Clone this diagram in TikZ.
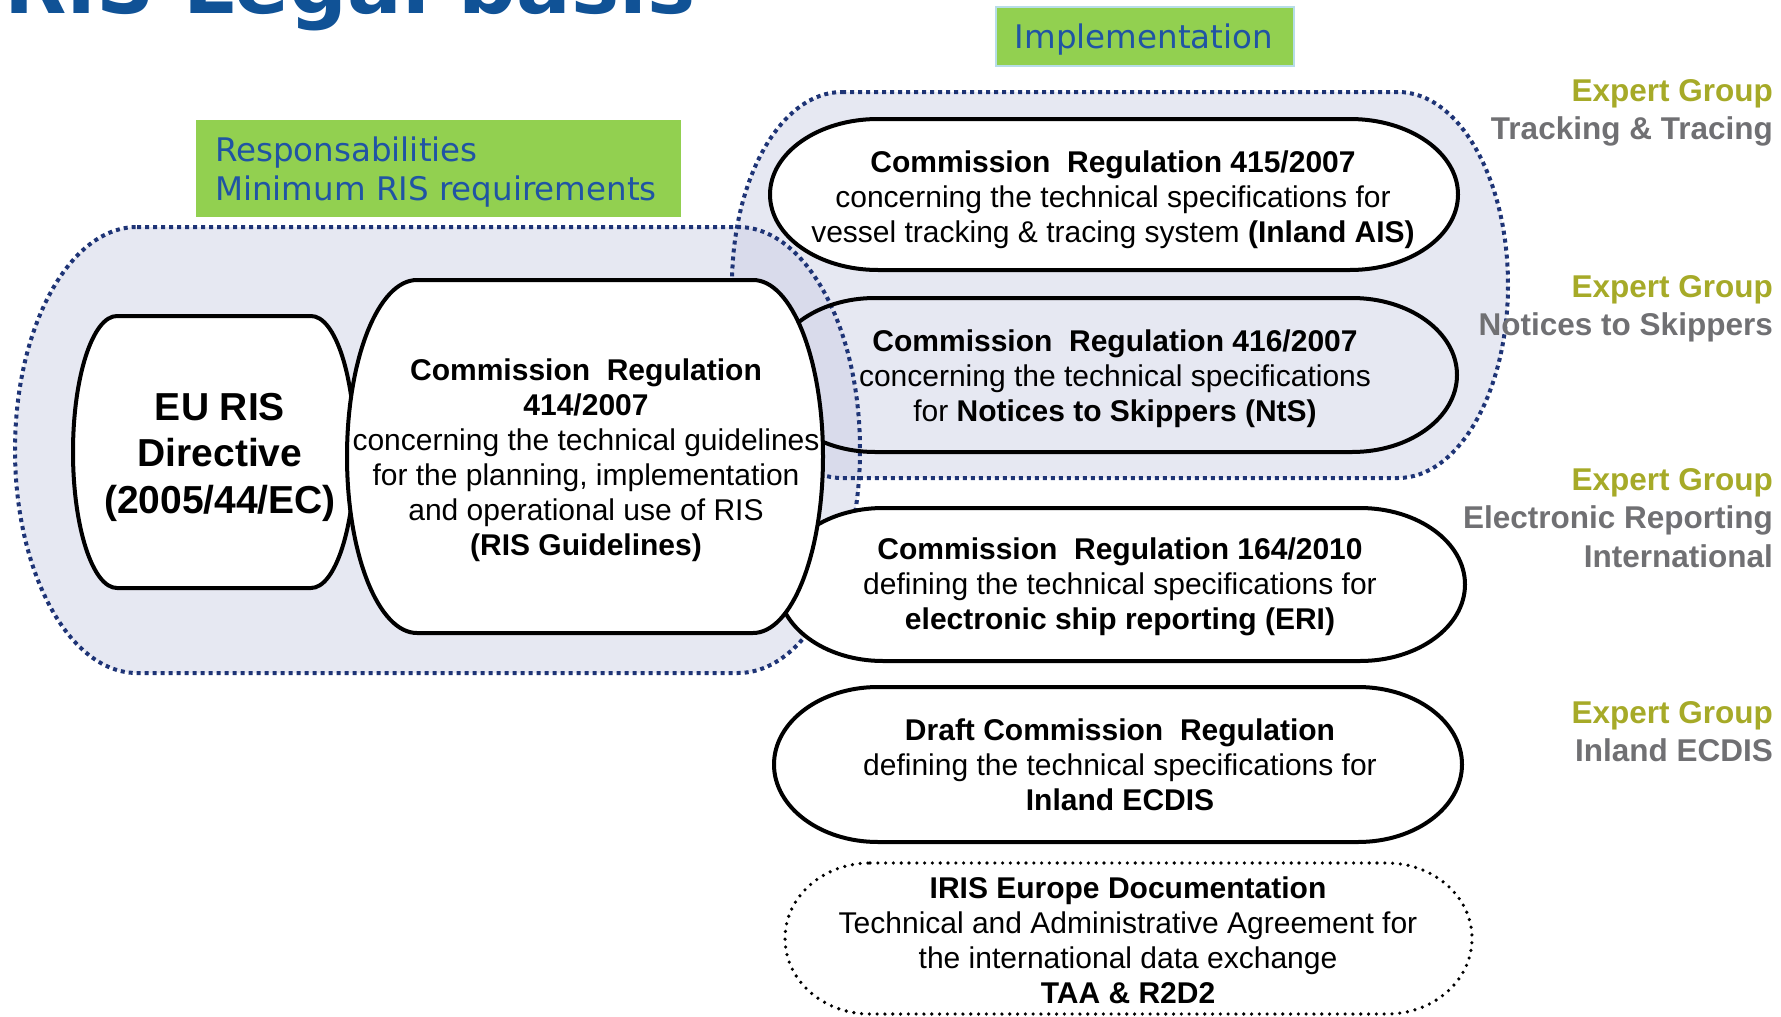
\documentclass[tikz,border=0pt]{standalone}
\usepackage{fontspec}
\setmainfont{Liberation Sans}
\newfontfamily\verdana{DejaVu Sans}
\usepackage{xcolor}
\usepackage{tikz}
\definecolor{titleblue}{RGB}{16, 82, 150}
\definecolor{leafgreen}{RGB}{146, 208, 80}
\definecolor{labelblue}{RGB}{32, 84, 164}
\definecolor{paleblue}{RGB}{183, 221, 232}
\definecolor{navy}{RGB}{30, 52, 118}
\definecolor{haze}{RGB}{200, 203, 226}
\definecolor{egolive}{RGB}{166, 170, 40}
\definecolor{eggrey}{RGB}{112, 112, 115}
\newcommand{\capsulepath}[5]{({#1-#3+#5},{#2-#4}) -- ({#1+#3-#5},{#2-#4})
  arc[start angle=90, end angle=-90, x radius=#5pt, y radius=#4pt]
  -- ({#1-#3+#5},{#2+#4})
  arc[start angle=270, end angle=90, x radius=#5pt, y radius=#4pt] -- cycle}

\begin{document}
\begin{tikzpicture}[x=1pt, y=-1pt,
  region/.style={fill=haze, fill opacity=0.45},
  regionline/.style={draw=navy, line width=4pt, dash pattern=on 4pt off 4pt},
  regbox/.style={draw=black, line width=4pt},
  irisline/.style={draw=black, line width=3.6pt, line cap=round, dash pattern=on 0pt off 7.8pt},
  tag/.style={fill=leafgreen, inner sep=0pt},
  tagtext/.style={inner sep=0pt, align=left, text=labelblue,
    font=\verdana\fontsize{32.5}{39.5}\selectfont},
  txt/.style={inner sep=0pt, align=center, font=\fontsize{30}{35}\selectfont},
  eglbl/.style={inner sep=0pt, align=right, anchor=north east, text=eggrey,
    font=\fontsize{31.5}{38.5}\selectfont\bfseries}
]
\useasboundingbox (0,0) rectangle (1781,1017);
\clip (0,0) rectangle (1781,1017);

\node[anchor=base west, inner sep=0pt, text=titleblue,
      font=\verdana\bfseries\fontsize{81}{96}\selectfont] at (4,13) (title) {RIS Legal basis};

\node[tag, minimum width=485, minimum height=97] at (438.5,168.5) (respbox) {};
\node[tagtext, anchor=west] at (215,172) (resp) {Responsabilities\\Minimum RIS requirements};
\node[tag, draw=paleblue, line width=2pt, minimum width=298, minimum height=59]
      at (1145,36.5) (implbox) {};
\node[tagtext] at (1144,40) (impl) {Implementation};

\fill[region] \capsulepath{437.5}{450}{422.5}{223}{122};
\fill[region] \capsulepath{1120}{285}{388}{193}{110};
\draw[regionline] \capsulepath{437.5}{450}{422.5}{223}{122};
\draw[regionline] \capsulepath{1120}{285}{388}{193}{110};

\draw[regbox, fill=white] \capsulepath{214}{452}{141}{136}{44};
\draw[regbox, fill=white] \capsulepath{1114}{194.5}{344}{75.5}{108};
\draw[regbox] \capsulepath{1113.5}{375}{343.5}{77}{105};
\draw[regbox, fill=white] \capsulepath{1121.5}{584.5}{343.5}{76.5}{105};
\draw[regbox, fill=white] \capsulepath{1118}{764.5}{344}{77.5}{104};
\draw[irisline] \capsulepath{1128.5}{938.5}{343.5}{75.5}{85};
\draw[regbox, fill=white] \capsulepath{585}{456.5}{238}{176.5}{70};

\node[txt, font=\fontsize{39}{46.5}\selectfont\bfseries] at (220,457) (euris)
      {EU RIS\\Directive\\(2005/44/EC)};
\node[txt] at (586,460) (reg414) {\textbf{Commission~~Regulation}\\\textbf{414/2007}\\
      concerning the technical guidelines\\for the planning, implementation\\
      and operational use of RIS\\\textbf{(RIS Guidelines)}};
\node[txt] at (1113,199.5) (reg415) {\textbf{Commission~~Regulation 415/2007}\\
      concerning the technical specifications for\\
      vessel tracking \& tracing system \textbf{(Inland AIS)}};
\node[txt] at (1115,378.4) (reg416) {\textbf{Commission~~Regulation 416/2007}\\
      concerning the technical specifications\\for \textbf{Notices to Skippers (NtS)}};
\node[txt] at (1120,587.3) (reg164) {\textbf{Commission~~Regulation 164/2010}\\
      defining the technical specifications for\\\textbf{electronic ship reporting (ERI)}};
\node[txt] at (1120,765) (ecdis) {\textbf{Draft Commission~~Regulation}\\
      defining the technical specifications for\\\textbf{Inland ECDIS}};
\node[txt] at (1128,940) (iris) {\textbf{IRIS Europe Documentation}\\
      Technical and Administrative Agreement for\\the international data exchange\\
      \textbf{TAA \& R2D2}};

\node[eglbl] at (1773,78.9) (egtt) {\textcolor{egolive}{Expert Group}\\Tracking \& Tracing};
\node[eglbl] at (1773,274.9) (egnts) {\textcolor{egolive}{Expert Group}\\Notices to Skippers};
\node[eglbl] at (1773,468) (egeri) {\textcolor{egolive}{Expert Group}\\Electronic Reporting\\International};
\node[eglbl] at (1773,701) (egecdis) {\textcolor{egolive}{Expert Group}\\Inland ECDIS};
\end{tikzpicture}
\end{document}
